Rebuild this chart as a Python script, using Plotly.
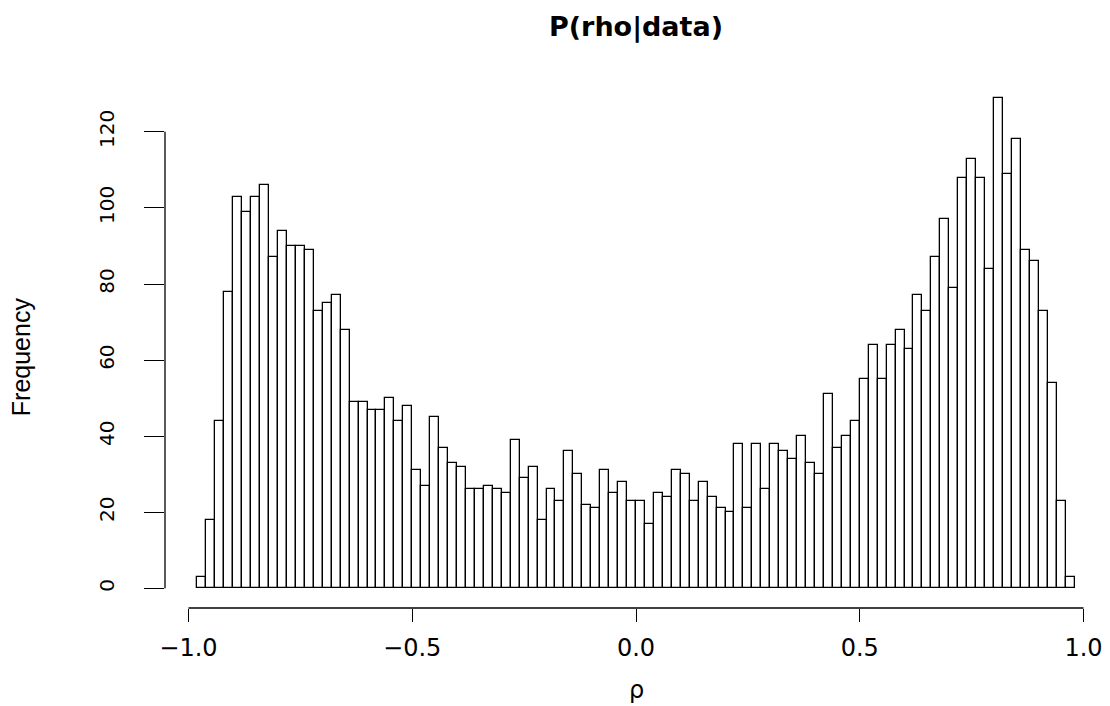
import numpy as np
import plotly.graph_objects as go

# Histogram of posterior draws of rho, bin width 0.02 from -0.98 to 0.98
bin_edges = np.linspace(-0.98, 0.98, 99)
counts = [
    3, 18, 44, 78, 103, 99, 103, 106, 87, 94, 90, 90, 89, 73, 75, 77,
    68, 49, 49, 47, 47, 50, 44, 48, 31, 27, 45, 37, 33, 32, 26, 26,
    27, 26, 25, 39, 29, 32, 18, 26, 23, 36, 30, 22, 21, 31, 25, 28,
    23, 23, 17, 25, 24, 31, 30, 23, 28, 24, 21, 20, 38, 21, 38, 26,
    38, 36, 34, 40, 33, 30, 51, 37, 40, 44, 55, 64, 55, 64, 68, 63, 77,
    73, 87, 97, 79, 108, 113, 108, 84, 129, 109, 118, 89, 86, 73, 54, 23, 3,
]
x_ticks = [-1.0, -0.5, 0.0, 0.5, 1.0]
x_ticklabels = ["\u22121.0", "\u22120.5", "0.0", "0.5", "1.0"]
y_ticks = [0, 20, 40, 60, 80, 100, 120]
y_ticklabels = ["0", "20", "40", "60", "80", "100", "120"]

centers = (bin_edges[:-1] + bin_edges[1:]) / 2
widths = np.diff(bin_edges)

fig = go.Figure()
fig.add_trace(go.Bar(
    x=centers, y=counts, width=widths,
    marker=dict(color="white", line=dict(color="black", width=1.3)),
    showlegend=False, hoverinfo="x+y",
))

# R-style axes: lines only span the tick range
fig.add_shape(type="line", xref="x", yref="paper", x0=x_ticks[0], x1=x_ticks[-1],
              y0=0, y1=0, line=dict(color="black", width=1.3))
fig.add_shape(type="line", xref="paper", yref="y", x0=0, x1=0,
              y0=y_ticks[0], y1=y_ticks[-1], line=dict(color="black", width=1.3))

fig.update_layout(
    width=1110, height=706,
    margin=dict(l=165, r=3, t=78, b=98),
    paper_bgcolor="white", plot_bgcolor="white",
    bargap=0,
    title=dict(text="<b>P(rho|data)</b>", x=0.5, xref="paper", y=0.962,
               yref="container", xanchor="center", yanchor="middle",
               font=dict(family="DejaVu Sans", size=27, color="black")),
    xaxis=dict(range=[-1.0525, 1.0525], tickmode="array", tickvals=x_ticks,
               ticktext=x_ticklabels, ticks="outside", ticklen=13, tickwidth=1.3,
               tickcolor="black", showgrid=False, zeroline=False, showline=False,
               ticklabelstandoff=5,
               tickfont=dict(family="DejaVu Sans", size=24, color="black")),
    yaxis=dict(range=[-5.16, 134.16], tickmode="array", tickvals=y_ticks,
               ticktext=y_ticklabels, ticks="outside", ticklen=20, tickwidth=1.3,
               tickcolor="black", showgrid=False, zeroline=False, showline=False,
               tickangle=-90, ticklabelstandoff=22,
               tickfont=dict(family="DejaVu Sans", size=20, color="black")),
    annotations=[
        dict(text="\u03c1", xref="paper", yref="paper", x=0.5, y=-0.154,
             xanchor="center", yanchor="middle", showarrow=False,
             font=dict(family="DejaVu Sans", size=24, color="black")),
        dict(text="Frequency", xref="paper", yref="paper", x=-0.1535, y=0.474,
             xanchor="center", yanchor="middle", showarrow=False, textangle=-90,
             font=dict(family="Liberation Sans", size=25, color="black")),
    ],
)

fig.write_html("out.html")
